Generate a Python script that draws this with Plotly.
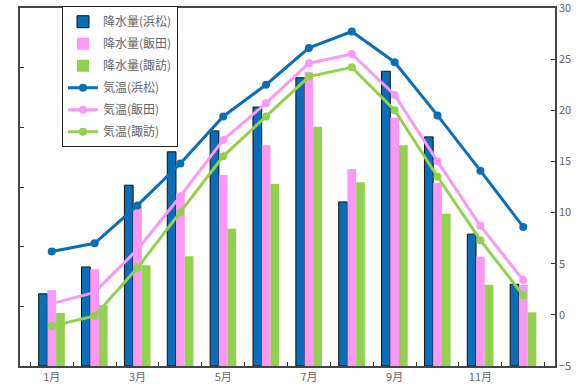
import plotly.graph_objects as go
from plotly.subplots import make_subplots

months = ["1月", "2月", "3月", "4月", "5月", "6月", "7月", "8月", "9月", "10月", "11月", "12月"]
tick_labels = ["1月", "", "3月", "", "5月", "", "7月", "", "9月", "", "11月", ""]

rain_hamamatsu = [121, 166, 303, 359, 394, 434, 483, 275, 494, 384, 221, 137]
rain_iida = [127, 162, 267, 290, 320, 370, 493, 330, 416, 307, 183, 136]
rain_suwa = [89, 102, 169, 184, 230, 305, 401, 308, 370, 255, 136, 90]

temp_hamamatsu = [6.2, 7.0, 10.7, 14.8, 19.4, 22.5, 26.1, 27.7, 24.7, 19.5, 14.1, 8.6]
temp_iida = [1.1, 2.2, 6.4, 11.6, 17.1, 20.7, 24.6, 25.5, 21.5, 15.0, 8.7, 3.4]
temp_suwa = [-1.1, -0.1, 4.6, 10.0, 15.5, 19.4, 23.3, 24.2, 20.0, 13.5, 7.3, 1.9]

BLUE = "#0a6db8"
PINK = "#fb97f5"
GREEN = "#92d050"
GREY = "#666666"

fig = make_subplots(specs=[[{"secondary_y": True}]])

fig.add_trace(go.Bar(x=months, y=rain_hamamatsu, name="降水量(浜松)", marker=dict(color=BLUE, line=dict(color="#111111", width=1)), legendgroup="a"), secondary_y=False)
fig.add_trace(go.Bar(x=months, y=rain_iida, name="降水量(飯田)", marker=dict(color=PINK, line=dict(width=0)), legendgroup="b"), secondary_y=False)
fig.add_trace(go.Bar(x=months, y=rain_suwa, name="降水量(諏訪)", marker=dict(color=GREEN, line=dict(width=0)), legendgroup="c"), secondary_y=False)

fig.add_trace(go.Scatter(x=months, y=temp_hamamatsu, name="気温(浜松)", mode="lines+markers", line=dict(color=BLUE, width=3), marker=dict(size=8, color=BLUE), legendgroup="d"), secondary_y=True)
fig.add_trace(go.Scatter(x=months, y=temp_iida, name="気温(飯田)", mode="lines+markers", line=dict(color=PINK, width=3), marker=dict(size=8, color=PINK), legendgroup="e"), secondary_y=True)
fig.add_trace(go.Scatter(x=months, y=temp_suwa, name="気温(諏訪)", mode="lines+markers", line=dict(color=GREEN, width=3), marker=dict(size=8, color=GREEN), legendgroup="f"), secondary_y=True)

fig.update_layout(
    width=585, height=388,
    margin=dict(l=20, r=30, t=8, b=22, autoexpand=False),
    paper_bgcolor="white", plot_bgcolor="white",
    barmode="group", bargap=0.39, bargroupgap=0,
    font=dict(family="Noto Sans CJK JP", size=11, color=GREY),
    legend=dict(
        x=0.0785, y=1.005, xanchor="left", yanchor="top",
        bordercolor="#222222", borderwidth=1, bgcolor="white",
        font=dict(size=12, color=GREY), tracegroupgap=3,
        itemwidth=30,
    ),
)

fig.update_xaxes(
    type="category", tickvals=months, ticktext=tick_labels, tickson="boundaries",
    ticks="inside", ticklen=4, tickcolor="#333333", domain=[0, 1], automargin=False,
    showline=True, linecolor="#444444", linewidth=1.5, mirror=True,
    showgrid=False, tickfont=dict(size=11, color=GREY),
)
fig.update_yaxes(
    range=[0, 600], dtick=100, showticklabels=False, ticks="inside", ticklen=4,
    tickcolor="#333333", showline=True, linecolor="#444444", linewidth=1.5,
    showgrid=False, zeroline=False, automargin=False, secondary_y=False,
)
fig.update_yaxes(
    range=[-5, 30], tickvals=[-5, 0, 5, 10, 15, 20, 25, 30], ticks="inside", ticklen=4,
    tickcolor="#333333", ticklabeloverflow="allow",
    showline=True, linecolor="#444444", linewidth=1.5, showgrid=False, zeroline=False,
    automargin=False, tickfont=dict(size=11, color=GREY), secondary_y=True,
)

fig.write_html("out.html")
